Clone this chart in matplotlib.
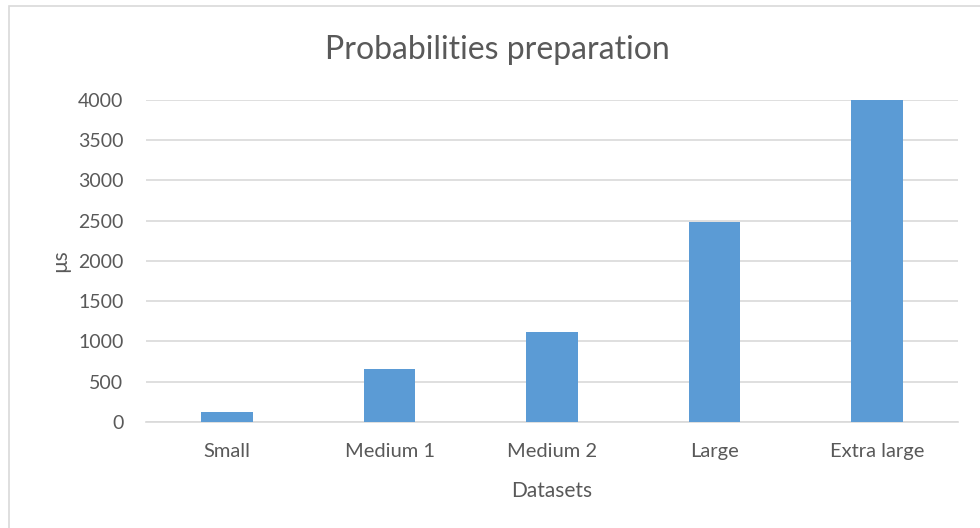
import matplotlib
matplotlib.use("Agg")
import matplotlib.pyplot as plt
from matplotlib.patches import Rectangle

categories = ["Small", "Medium 1", "Medium 2", "Large", "Extra large"]
times_us = [124, 655, 1117, 2487, 3995]
y_ticks = [0, 500, 1000, 1500, 2000, 2500, 3000, 3500, 4000]

plt.rcParams["font.family"] = ["Lato", "DejaVu Sans"]
text_color = "#595959"
grid_color = "#D9D9D9"
bar_color = "#5B9BD5"

fig = plt.figure(figsize=(9.8, 5.28), dpi=100)
ax = fig.add_axes([0.1487, 0.2008, 0.8292, 0.6104])

x = list(range(len(categories)))
ax.bar(x, times_us, width=0.315, color=bar_color, zorder=3)

ax.set_xlim(-0.5, len(categories) - 0.5)
ax.set_ylim(0, 4000)
ax.set_yticks(y_ticks)
ax.set_yticklabels([str(t) for t in y_ticks])
ax.set_xticks(x)
ax.set_xticklabels(categories)

ax.yaxis.grid(True, color=grid_color, linewidth=1.2, zorder=0)
ax.xaxis.grid(False)
for side in ["top", "right", "left"]:
    ax.spines[side].set_visible(False)
ax.spines["bottom"].set_color(grid_color)
ax.spines["bottom"].set_linewidth(1.2)
ax.tick_params(axis="y", length=0, labelsize=14, labelcolor=text_color, pad=16)
ax.tick_params(axis="x", length=0, labelsize=14.5, labelcolor=text_color, pad=15)

ax.set_xlabel("Datasets", fontsize=15, color=text_color, labelpad=15)
ax.set_ylabel("µs", fontsize=15, color=text_color, labelpad=6)
fig.text(497 / 980, 1 - 50 / 528, "Probabilities preparation", fontsize=23,
         color=text_color, ha="center", va="center")

# light chart-area border
fig.patches.append(Rectangle((8.5 / 980, -0.05), 1.2, 1 - 5.5 / 528 + 0.05,
                             transform=fig.transFigure, fill=False,
                             edgecolor=grid_color, linewidth=1.2))

fig.savefig("out.png", dpi=100)
